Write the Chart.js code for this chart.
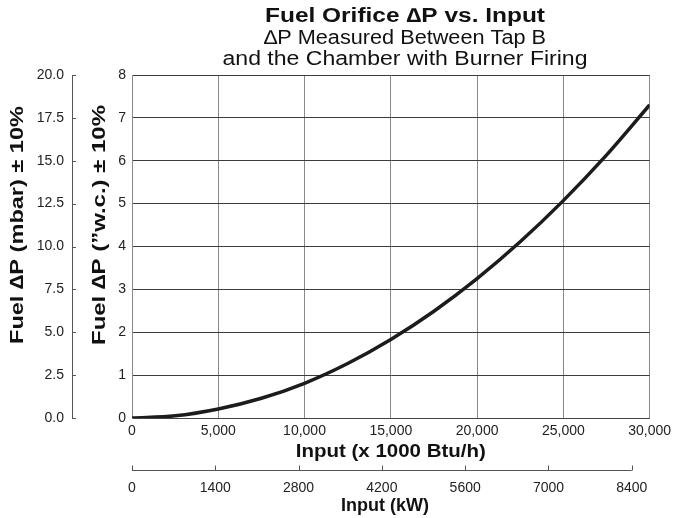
<!DOCTYPE html>
<html>
<head>
<meta charset="utf-8">
<script src="https://cdn.jsdelivr.net/npm/chart.js@4/dist/chart.umd.min.js"></script>
<style>
  html, body { margin: 0; padding: 0; background: #fff; }
  #wrap { width: 676px; height: 518px; }
</style>
</head>
<body>
<div id="wrap"><canvas id="c" width="676" height="518"></canvas></div>
<script>
// ---- data ----
const inputBtu = [0, 2500, 5000, 7500, 10000, 12500, 15000, 17500, 20000, 22500, 25000, 27500, 30000];
const deltaPwc = [0, 0.05, 0.21, 0.46, 0.81, 1.27, 1.83, 2.49, 3.25, 4.11, 5.07, 6.13, 7.30];
const btuTicks = [0, 5000, 10000, 15000, 20000, 25000, 30000];
const kwTicks = [0, 1400, 2800, 4200, 5600, 7000, 8400];
const kwAxisMax = 8700;
const wcTicks = [0, 1, 2, 3, 4, 5, 6, 7, 8];
const mbarTicks = [0, 2.5, 5, 7.5, 10, 12.5, 15, 17.5, 20];
const titleLines = ['Fuel Orifice \u2206P vs. Input', '\u2206P Measured Between Tap B', 'and the Chamber with Burner Firing'];
const xTitleBtu = 'Input (x 1000 Btu/h)';
const xTitleKw = 'Input (kW)';
const yTitleWc = 'Fuel \u2206P (\u201Dw.c.) \u00B1 10%';
const yTitleMbar = 'Fuel \u2206P (mbar) \u00B1 10%';

const FONT = "'Liberation Sans', Arial, sans-serif";
const tickFont = { family: FONT, size: 14 };

// draw text centred at (x,y), horizontally scaled to a target width
function drawText(ctx, text, x, y, font, targetW, rotate) {
  ctx.save();
  ctx.font = font;
  ctx.textAlign = 'center';
  ctx.textBaseline = 'middle';
  const w = ctx.measureText(text).width;
  const sx = targetW ? targetW / w : 1;
  ctx.translate(x, y);
  if (rotate) ctx.rotate(-Math.PI / 2);
  ctx.scale(sx, 1);
  ctx.fillText(text, 0, 0);
  ctx.restore();
}

const extraAxes = {
  id: 'extraAxes',
  afterDraw(chart) {
    const ctx = chart.ctx;
    const ca = chart.chartArea;
    ctx.save();
    // mbar tick marks pointing inward
    const m = chart.scales.y2;
    ctx.strokeStyle = '#555';
    ctx.lineWidth = 1;
    ctx.beginPath();
    mbarTicks.forEach(v => {
      const y = Math.round(m.getPixelForValue(v)) + 0.5;
      ctx.moveTo(m.right, y);
      ctx.lineTo(m.right + 4, y);
    });
    ctx.stroke();
    // kW axis line and upward ticks
    const k = chart.scales.x2;
    const y0 = Math.round(k.top) - 1.5;
    ctx.beginPath();
    ctx.moveTo(k.getPixelForValue(kwTicks[0]), y0);
    ctx.lineTo(k.getPixelForValue(kwTicks[kwTicks.length - 1]), y0);
    kwTicks.forEach(v => {
      const x = Math.round(k.getPixelForValue(v)) + 0.5;
      ctx.moveTo(x, y0);
      ctx.lineTo(x, y0 - 5);
    });
    ctx.stroke();
    ctx.fillStyle = '#111';
    // chart titles
    drawText(ctx, titleLines[0], 405, 16, "bold 20px " + FONT, 280);
    drawText(ctx, titleLines[1], 405, 38, "20px " + FONT, 282);
    drawText(ctx, titleLines[2], 405, 59, "20px " + FONT, 365);
    // axis titles
    const xc = (ca.left + ca.right) / 2;
    drawText(ctx, xTitleBtu, xc, 452, "bold 19px " + FONT, 190);
    drawText(ctx, xTitleKw, 385, 506, "bold 19px " + FONT, 88);
    drawText(ctx, yTitleMbar, 18, 225, "bold 19px " + FONT, 238, true);
    drawText(ctx, yTitleWc, 100, 225, "bold 19px " + FONT, 240, true);
    ctx.restore();
  }
};

new Chart(document.getElementById('c'), {
  type: 'line',
  data: {
    labels: inputBtu,
    datasets: [{
      data: inputBtu.map((x, i) => ({ x: x, y: deltaPwc[i] })),
      borderColor: '#1c1c1c',
      borderWidth: 3.5,
      pointRadius: 0,
      fill: false,
      cubicInterpolationMode: 'monotone',
      xAxisID: 'x',
      yAxisID: 'y'
    }]
  },
  options: {
    responsive: false,
    animation: false,
    devicePixelRatio: 1,
    layout: { padding: { top: 75, right: 24, left: 0, bottom: 0 } },
    plugins: { legend: { display: false }, tooltip: { enabled: false }, title: { display: false } },
    scales: {
      x: {
        type: 'linear', position: 'bottom', weight: 0,
        min: 0, max: 30000,
        afterBuildTicks: s => { s.ticks = btuTicks.map(v => ({ value: v })); },
        afterFit: s => { s.height = 54; },
        ticks: { font: tickFont, color: '#222', padding: 5, maxRotation: 0,
                 callback: v => Number(v).toLocaleString('en-US') },
        grid: { color: '#8a8a8a', lineWidth: 1, drawTicks: false },
        border: { color: '#444', width: 1 },
        title: { display: false }
      },
      x2: {
        type: 'linear', position: 'bottom', weight: 1,
        min: 0, max: kwAxisMax,
        afterBuildTicks: s => { s.ticks = kwTicks.map(v => ({ value: v })); },
        afterFit: s => { s.height = 46; },
        ticks: { font: tickFont, color: '#222', padding: 8, maxRotation: 0,
                 callback: v => String(v) },
        grid: { display: false, drawOnChartArea: false, drawTicks: false },
        border: { display: false },
        title: { display: false }
      },
      y: {
        type: 'linear', position: 'left', weight: 0,
        min: 0, max: 8,
        afterBuildTicks: s => { s.ticks = wcTicks.map(v => ({ value: v })); },
        afterFit: s => { s.width = 60; },
        ticks: { font: tickFont, color: '#222', padding: 6 },
        grid: { color: '#3c3c3c', lineWidth: 1, drawTicks: false },
        border: { color: '#8a8a8a', width: 1 },
        title: { display: false }
      },
      y2: {
        type: 'linear', position: 'left', weight: 1,
        min: 0, max: 20,
        afterBuildTicks: s => { s.ticks = mbarTicks.map(v => ({ value: v })); },
        afterFit: s => { s.width = 72; },
        ticks: { font: tickFont, color: '#222', padding: 8, callback: v => Number(v).toFixed(1) },
        grid: { display: false, drawOnChartArea: false, drawTicks: false },
        border: { display: true, color: '#555', width: 1 },
        title: { display: false }
      }
    }
  },
  plugins: [extraAxes]
});
</script>
</body>
</html>
